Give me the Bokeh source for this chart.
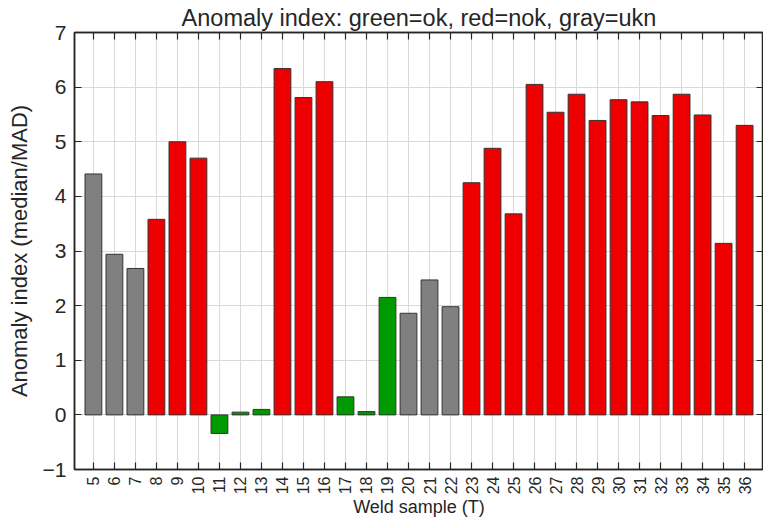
from bokeh.plotting import figure
from bokeh.models import ColumnDataSource, LinearAxis, FixedTicker, Range1d
from bokeh.embed import file_html
from bokeh.resources import INLINE
import math

samples = [5, 6, 7, 8, 9, 10, 11, 12, 13, 14, 15, 16, 17, 18, 19, 20,
           21, 22, 23, 24, 25, 26, 27, 28, 29, 30, 31, 32, 33, 34, 35, 36]
anomaly = [4.41, 2.94, 2.68, 3.58, 5.00, 4.70, -0.34, 0.05, 0.10, 6.34,
           5.81, 6.10, 0.33, 0.06, 2.15, 1.86, 2.47, 1.98, 4.25, 4.88,
           3.68, 6.05, 5.54, 5.87, 5.39, 5.77, 5.73, 5.48, 5.87, 5.49,
           3.14, 5.30]
status = ["ukn", "ukn", "ukn", "nok", "nok", "nok", "ok", "ok", "ok", "nok",
          "nok", "nok", "ok", "ok", "ok", "ukn", "ukn", "ukn", "nok", "nok",
          "nok", "nok", "nok", "nok", "nok", "nok", "nok", "nok", "nok", "nok",
          "nok", "nok"]
y_ticks = [-1, 0, 1, 2, 3, 4, 5, 6, 7]

palette = {"ok": "#009900", "nok": "#EE0000", "ukn": "#808080"}
colors = [palette[s] for s in status]

src = ColumnDataSource(dict(x=samples, top=anomaly, color=colors))

FONT = "Liberation Sans"
AX = "#262626"

p = figure(frame_width=689, frame_height=437,
           x_range=Range1d(4.1, 36.9), y_range=Range1d(-1, 7),
           output_backend="svg", toolbar_location=None,
           min_border_left=74, min_border_right=0, min_border_top=0,
           min_border_bottom=0,
           title="Anomaly index: green=ok, red=nok, gray=ukn")

p.title.text_font = FONT
p.title.text_font_size = "23.5px"
p.title.text_font_style = "normal"
p.title.text_color = AX
p.title.align = "center"
p.title.offset = 0
p.title.standoff = 4

p.vbar(x="x", top="top", bottom=0, width=0.8, fill_color="color",
       line_color="#333333", line_width=1, source=src)

p.outline_line_color = AX
p.outline_line_width = 1.5

p.xaxis.ticker = FixedTicker(ticks=samples)
p.yaxis.ticker = FixedTicker(ticks=y_ticks)
p.yaxis.major_label_overrides = {-1: "\u22121"}

for ax in (p.xaxis[0], p.yaxis[0]):
    ax.axis_line_color = AX
    ax.axis_line_width = 1.5
    ax.major_tick_line_color = AX
    ax.major_tick_line_width = 1.2
    ax.major_tick_in = 7
    ax.major_tick_out = 0
    ax.minor_tick_line_color = None
    ax.major_label_text_font = FONT
    ax.major_label_text_color = AX
    ax.axis_label_text_font = FONT
    ax.axis_label_text_color = AX
    ax.axis_label_text_font_style = "normal"

p.xaxis.major_label_orientation = math.pi / 2
p.xaxis.major_label_text_font_size = "16px"
p.xaxis.axis_label = "Weld sample (T)"
p.xaxis.axis_label_text_font_size = "18px"
p.xaxis.axis_label_standoff = 0
p.xaxis.major_label_standoff = 7

p.yaxis.major_label_text_font_size = "21px"
p.yaxis.axis_label = "Anomaly index (median/MAD)"
p.yaxis.axis_label_text_font_size = "22px"
p.yaxis.axis_label_standoff = 8
p.yaxis.major_label_standoff = 8

top_ax = LinearAxis(ticker=FixedTicker(ticks=samples), major_label_text_font_size="0px",
                    major_tick_in=7, major_tick_out=0, minor_tick_line_color=None,
                    axis_line_color=AX, axis_line_width=1.5,
                    major_tick_line_color=AX, major_tick_line_width=1.2)
top_ax.major_label_text_color = None
right_ax = LinearAxis(ticker=FixedTicker(ticks=y_ticks), major_label_text_font_size="0px",
                      major_tick_in=7, major_tick_out=0, minor_tick_line_color=None,
                      axis_line_color=AX, axis_line_width=1.5,
                      major_tick_line_color=AX, major_tick_line_width=1.2)
right_ax.major_label_text_color = None
p.add_layout(top_ax, "above")
p.add_layout(right_ax, "right")

p.xgrid.ticker = FixedTicker(ticks=samples)
p.ygrid.ticker = FixedTicker(ticks=y_ticks)
p.grid.grid_line_color = "#d9d9d9"
p.grid.grid_line_width = 1

p.background_fill_color = "white"
p.border_fill_color = "white"

open("out.html", "w").write(file_html(p, INLINE))
